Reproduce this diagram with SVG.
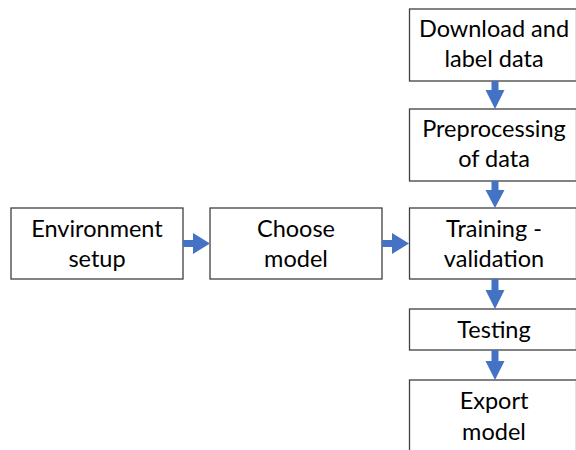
<svg xmlns="http://www.w3.org/2000/svg" width="576" height="450" viewBox="0 0 576 450">
  <defs>
    <style>
      .box { fill: #ffffff; stroke: #404040; stroke-width: 1.3; }
      .lbl { font-family: Lato, "Liberation Sans", sans-serif; font-size: 23.5px; fill: #000000; text-anchor: middle; }
      .arrow { fill: #4472c4; stroke: none; }
    </style>
  </defs>
  <rect width="576" height="450" fill="#ffffff"/>

  <g id="env-setup">
    <rect class="box" x="11" y="208" width="172" height="71"/>
    <text class="lbl" x="97" y="237">Environment</text>
    <text class="lbl" x="97" y="267">setup</text>
  </g>
  <g id="choose-model">
    <rect class="box" x="210" y="208" width="172" height="71"/>
    <text class="lbl" x="296" y="237">Choose</text>
    <text class="lbl" x="296" y="267">model</text>
  </g>
  <g id="download-data">
    <rect class="box" x="409.5" y="9" width="167" height="72"/>
    <text class="lbl" x="494" y="37">Download and</text>
    <text class="lbl" x="494" y="67">label data</text>
  </g>
  <g id="preprocessing">
    <rect class="box" x="409.5" y="109" width="167" height="72"/>
    <text class="lbl" x="494" y="137">Preprocessing</text>
    <text class="lbl" x="494" y="167">of data</text>
  </g>
  <g id="training">
    <rect class="box" x="409.5" y="208" width="167" height="71"/>
    <text class="lbl" x="494" y="237">Training -</text>
    <text class="lbl" x="494" y="267">validation</text>
  </g>
  <g id="testing">
    <rect class="box" x="409.5" y="309" width="167" height="41"/>
    <text class="lbl" x="494" y="338">Testing</text>
  </g>
  <g id="export-model">
    <rect class="box" x="409.5" y="380" width="167" height="80"/>
    <text class="lbl" x="494" y="409">Export</text>
    <text class="lbl" x="494" y="440">model</text>
  </g>

  <g id="connectors">
    <!-- horizontal block arrows -->
    <path class="arrow" d="M183 240 H193 V233 L210 243.5 L193 254 V247 H183 Z"/>
    <path class="arrow" d="M382 240 H392 V233 L409 243.5 L392 254 V247 H382 Z"/>
    <!-- vertical block arrows -->
    <path class="arrow" d="M491.5 81 V90 H485.5 L495 109 L504.5 90 H498.5 V81 Z"/>
    <path class="arrow" d="M491.5 181 V190 H485.5 L495 208 L504.5 190 H498.5 V181 Z"/>
    <path class="arrow" d="M491.5 279 V290 H485.5 L495 309 L504.5 290 H498.5 V279 Z"/>
    <path class="arrow" d="M491.5 350 V361 H485.5 L495 380 L504.5 361 H498.5 V350 Z"/>
  </g>
</svg>
